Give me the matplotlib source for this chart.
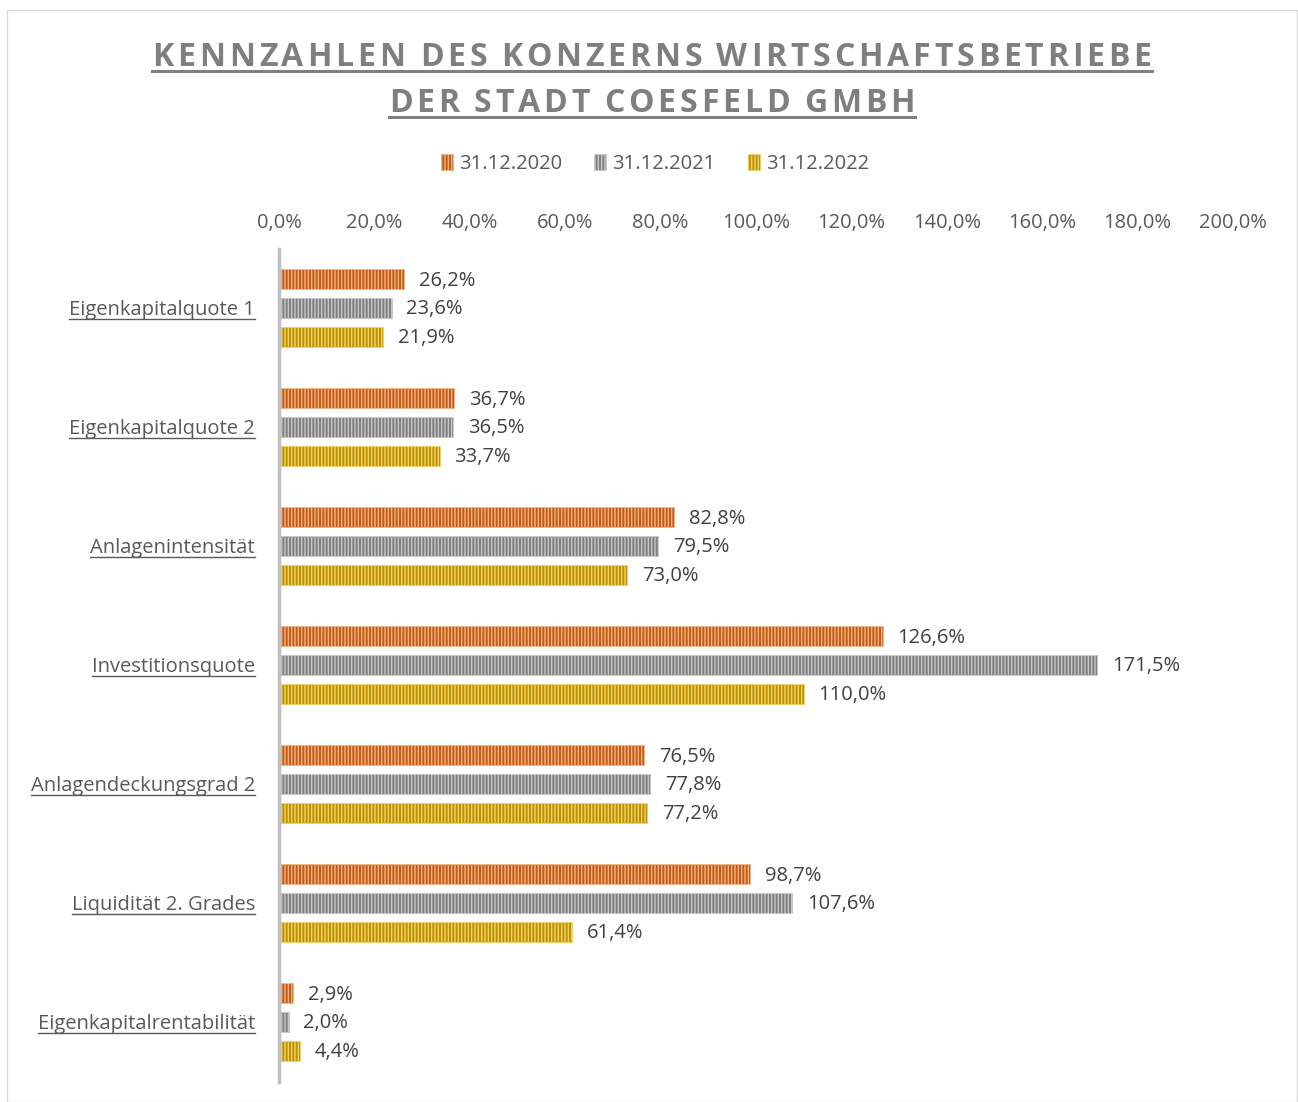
import numpy as np
import matplotlib.pyplot as plt
from matplotlib.patches import Rectangle
from matplotlib.lines import Line2D

plt.rcParams['font.family'] = ['Open Sans', 'DejaVu Sans']

# Daten
kategorien = ['Eigenkapitalquote 1', 'Eigenkapitalquote 2', 'Anlagenintensität',
              'Investitionsquote', 'Anlagendeckungsgrad 2', 'Liquidität 2. Grades',
              'Eigenkapitalrentabilität']
jahre = ['31.12.2020', '31.12.2021', '31.12.2022']
werte_2020 = [26.2, 36.7, 82.8, 126.6, 76.5, 98.7, 2.9]
werte_2021 = [23.6, 36.5, 79.5, 171.5, 77.8, 107.6, 2.0]
werte_2022 = [21.9, 33.7, 73.0, 110.0, 77.2, 61.4, 4.4]
x_ticks = np.arange(0, 201, 20)

# Farben (Flaeche dunkel, Streifen hell)
flaeche = ['#C55A11', '#7F7F7F', '#BF9000']
streifen = ['#F2B58A', '#C8C8C8', '#EDD36A']
textfarbe = '#404040'
fs = 14.5

fig = plt.figure(figsize=(12.98, 11.02), dpi=100)
ax = fig.add_axes([279 / 1298, 20.5 / 1102, 954 / 1298, 833 / 1102])

y = np.arange(len(kategorien))
hoehe = 0.168
abstand = 0.24
serien = [werte_2020, werte_2021, werte_2022]
for i, werte in enumerate(serien):
    pos = y + (i - 1) * abstand
    ax.barh(pos, werte, height=hoehe, color=flaeche[i], edgecolor=streifen[i],
            hatch='|||||', linewidth=0.6, label=jahre[i])
    for p, w in zip(pos, werte):
        ax.text(w + 3.1, p + 0.01, f'{w:.1f}%'.replace('.', ','), va='center', ha='left',
                fontsize=fs, color=textfarbe)

ax.set_xlim(0, 200)
ax.set_ylim(len(kategorien) - 0.5, -0.5)
ax.set_xticks(x_ticks)
ax.set_xticklabels([f'{t:.1f}%'.replace('.', ',') for t in x_ticks], fontsize=fs, color='#595959')
ax.xaxis.tick_top()
ax.tick_params(axis='x', length=0, pad=11)
ax.set_yticks(y)
ax.set_yticklabels([])
ax.tick_params(axis='y', length=0)
for s in ['top', 'right', 'bottom']:
    ax.spines[s].set_visible(False)
ax.spines['left'].set_color('#BFBFBF')
ax.spines['left'].set_linewidth(2.5)

# Rahmen
fig.patches.append(Rectangle((7 / 1298, 0), 1 - 8 / 1298, 1 - 10 / 1102, transform=fig.transFigure,
                             fill=False, edgecolor='#D9D9D9', linewidth=1))

fig.canvas.draw()
renderer = fig.canvas.get_renderer()
inv = fig.transFigure.inverted()


def unterstreichen(t, farbe, dicke, abst):
    bb = t.get_window_extent(renderer)
    x0, y0 = inv.transform((bb.x0, bb.y0 - abst))
    x1, _ = inv.transform((bb.x1, bb.y0 - abst))
    fig.add_artist(Line2D([x0, x1], [y0, y0], transform=fig.transFigure, color=farbe, linewidth=dicke))


# Kategorienbeschriftung, unterstrichen
for k, pos in zip(kategorien, y):
    yf = inv.transform(ax.transData.transform((0, pos + 0.015)))[1]
    t = fig.text(255 / 1298, yf, k, ha='right', va='center', fontsize=fs, color='#595959')
    t.draw(renderer)
    unterstreichen(t, '#595959', 1.0, -1)


# Titel mit Sperrung
def gesperrt(text, yc, groesse, sperr):
    teile = []
    breiten = []
    for ch in text:
        t = fig.text(0, yc, ch, fontsize=groesse, fontweight='bold', color='#7F7F7F', va='baseline')
        bb = t.get_window_extent(renderer)
        teile.append(t)
        breiten.append(bb.width if ch != ' ' else groesse * 0.3)
    gesamt = sum(breiten) + sperr * (len(text) - 1)
    x = 652 - gesamt / 2
    for t, b in zip(teile, breiten):
        t.set_x(x / 1298)
        x += b + sperr
    start = 652 - gesamt / 2
    return start, start + gesamt


for zeile, yb, yl in [('KENNZAHLEN DES KONZERNS WIRTSCHAFTSBETRIEBE', 1102 - 66, 1102 - 71),
                      ('DER STADT COESFELD GMBH', 1102 - 112, 1102 - 117)]:
    a, b = gesperrt(zeile, yb / 1102, 23, 3.8)
    fig.add_artist(Line2D([a / 1298, b / 1298], [yl / 1102, yl / 1102], transform=fig.transFigure,
                          color='#7F7F7F', linewidth=2.2))

fig.legend(loc='center', bbox_to_anchor=(655 / 1298, 1 - 164 / 1102), ncol=3, frameon=False,
           fontsize=fs, labelcolor='#595959', handlelength=0.6, handleheight=0.8,
           handletextpad=0.3, columnspacing=1.6)

fig.savefig('out.png', dpi=100)
